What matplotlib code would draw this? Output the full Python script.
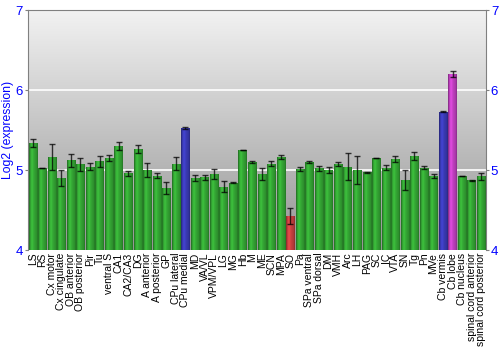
import numpy as np
import matplotlib
matplotlib.use("Agg")
import matplotlib.pyplot as plt
from matplotlib.colors import LinearSegmentedColormap, to_rgb

plt.rcParams['font.family'] = ['Liberation Sans', 'DejaVu Sans']

regions = ["LS", "RS", "Cx motor", "Cx cingulate", "OB anterior", "OB posterior", "Pir", "Tu",
           "ventral S", "CA1", "CA2/CA3", "DG", "A anterior", "A posterior", "GP", "CPu lateral",
           "CPu medial", "MD", "VA/VL", "VPM/VPL", "LG", "MG", "Hb", "M", "ME", "SCN", "MPA", "SO",
           "Pa", "SPa ventral", "SPa dorsal", "DM", "VMH", "Arc", "LH", "PAG", "SC", "IC", "VTA",
           "SN", "Tg", "Pn", "MVe", "Cb vermis", "Cb lobe", "Cb nucleus", "spinal cord anterior",
           "spinal cord posterior"]
values = [5.34, 5.025, 5.16, 4.90, 5.12, 5.07, 5.04, 5.11,
          5.15, 5.30, 4.96, 5.26, 5.00, 4.93, 4.77, 5.08,
          5.525, 4.90, 4.91, 4.95, 4.79, 4.84, 5.25, 5.10, 4.95, 5.08, 5.16, 4.43,
          5.01, 5.10, 5.02, 5.00, 5.075, 5.04, 5.00, 4.97, 5.15, 5.03, 5.14,
          4.875, 5.175, 5.03, 4.92, 5.73, 6.20, 4.925, 4.87,
          4.92]
errors = [0.05, 0.005, 0.16, 0.10, 0.08, 0.085, 0.045, 0.07,
          0.04, 0.05, 0.03, 0.05, 0.09, 0.03, 0.075, 0.08,
          0.008, 0.04, 0.03, 0.06, 0.07, 0.005, 0.005, 0.008, 0.07, 0.035, 0.025, 0.10,
          0.025, 0.015, 0.03, 0.04, 0.03, 0.17, 0.17, 0.01, 0.005, 0.03, 0.04,
          0.13, 0.05, 0.02, 0.025, 0.005, 0.035, 0.005, 0.01,
          0.04]
highlight = {"CPu medial": "#3a3ab4", "Cb vermis": "#3a3ab4", "SO": "#c84040", "Cb lobe": "#c040c0"}
base_green = "#34a534"
yticks = [4, 5, 6, 7]

fig = plt.figure(figsize=(5, 3.5), dpi=100)
ax = fig.add_axes([0.056, 0.2857, 0.916, 0.6857])

x = np.arange(len(regions))

# background gradient
bg = LinearSegmentedColormap.from_list("bg", ["#959595", "#f2f2f2"])
grad = np.linspace(0, 1, 256).reshape(-1, 1)
ax.imshow(grad, aspect="auto", cmap=bg, origin="lower", extent=[0, 1, 0, 1],
          transform=ax.transAxes, zorder=0)

for yv in [5, 6]:
    ax.axhline(yv, color="white", lw=1.2, zorder=1)

profile = [0.62, 1.0, 1.18, 1.05, 0.95, 0.9, 0.7]
bars = ax.bar(x, [v - 4 for v in values], bottom=4, width=0.88, color="none", zorder=2)
for rect, name in zip(bars, regions):
    c = np.array(to_rgb(highlight.get(name, base_green)))
    cols = [tuple(np.clip(c * f, 0, 1)) for f in profile]
    cmap = LinearSegmentedColormap.from_list("b", cols)
    x0, y0 = rect.get_x(), rect.get_y()
    w, h = rect.get_width(), rect.get_height()
    im = ax.imshow(np.linspace(0, 1, 64).reshape(1, -1), aspect="auto", cmap=cmap,
                   extent=[x0, x0 + w, y0, y0 + h], zorder=2)
    im.set_clip_path(rect)

ax.errorbar(x, values, yerr=errors, fmt="none", ecolor="black", elinewidth=1,
            capsize=2, capthick=1, alpha=0.75, zorder=3)

ax.set_xlim(-0.5, len(regions) - 0.5)
ax.set_ylim(4, 7)

ax.set_xticks(x)
ax.set_xticklabels(regions, rotation=90, fontsize=7.5)
ax.tick_params(axis="x", length=0, pad=2)
ax.set_yticks(yticks)
ax.set_yticklabels([str(t) for t in yticks])
ax.tick_params(axis="y", colors="#808080", labelcolor="blue", labelsize=9.5,
               length=2.5, pad=1, right=True, labelright=True, left=True)
ax.set_ylabel("Log2 (expression)", color="blue", fontsize=8.8, labelpad=1)

for s in ["left", "right", "top"]:
    ax.spines[s].set_color("#808080")
ax.spines["bottom"].set_visible(False)

fig.savefig("out.png", dpi=100)
